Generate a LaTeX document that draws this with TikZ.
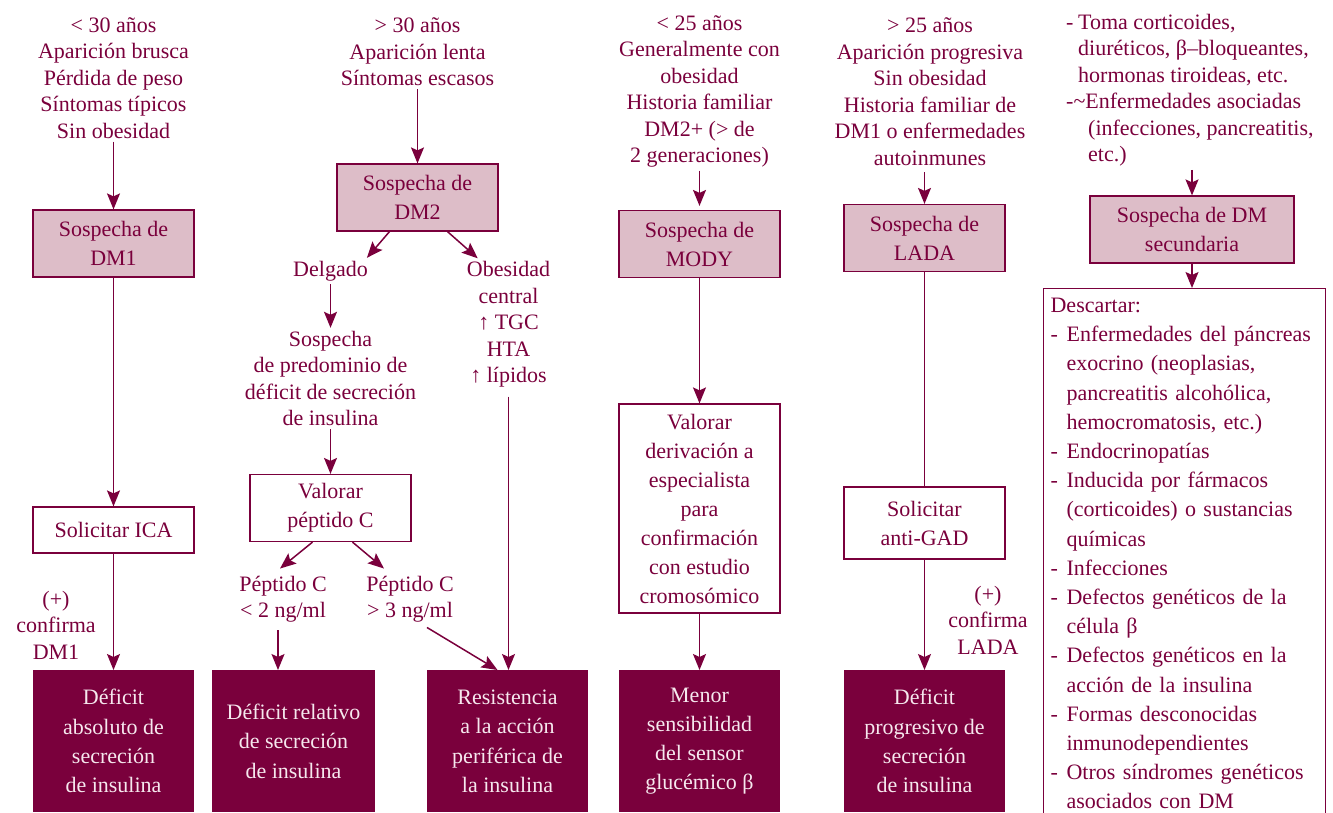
\documentclass[tikz,border=0pt]{standalone}
\usepackage{fontspec}
\setmainfont{Liberation Serif}
\usetikzlibrary{arrows.meta}
\definecolor{granate}{HTML}{7A003C}
\definecolor{rosa}{HTML}{DDBDC8}
\definecolor{claro}{HTML}{F6E8EE}
\newcommand{\guion}{\makebox[16pt][l]{-}}

\begin{document}
\begin{tikzpicture}[x=1pt, y=-1pt,
    texto/.style={text=granate, align=center, inner sep=3pt, font=\fontsize{22}{26.5}\selectfont},
    caja/.style={draw=granate, line width=1.2pt, fill=rosa, text=granate, align=center, minimum width=161pt, minimum height=67pt, inner sep=2pt, font=\fontsize{22}{29}\selectfont},
    blanca/.style={caja, fill=white},
    final/.style={fill=granate, text=claro, align=center, anchor=north, minimum width=161pt, minimum height=142pt, inner sep=0pt, font=\fontsize{22}{29.3}\selectfont},
    linea/.style={draw=granate, line width=1.5pt},
    flecha/.style={linea, -{Stealth[length=16pt, width=13pt, inset=3pt]}}]

    \useasboundingbox (0,0) rectangle (1333,812);

        \node[texto] (edad1) at (113.5,78) {< 30 años\\Aparición brusca\\Pérdida de peso\\Síntomas típicos\\Sin obesidad};
        \node[caja] (dm1) at (113.5,243.5) {Sospecha de\\DM1};
        \node[blanca, minimum height=46pt] (ica) at (113.5,530) {Solicitar ICA};
        \node[texto] (conf1) at (56,625) {(+)\\confirma\\DM1};
        \node[final] (def1) at (113.5,670) {Déficit\\absoluto de\\secreción\\de insulina};
        \draw[flecha] (edad1) -- (dm1);
        \draw[flecha] (dm1) -- (ica);
        \draw[flecha] (ica) -- (def1);

        \node[texto] (edad2) at (417.5,52) {> 30 años\\Aparición lenta\\Síntomas escasos};
        \node[caja] (dm2) at (417.5,197.5) {Sospecha de\\DM2};
        \node[texto] (delgado) at (330.5,271) {Delgado};
        \node[texto] (predom) at (330.5,378.5) {Sospecha\\de predominio de\\déficit de secreción\\de insulina};
        \node[blanca] (valpep) at (330.5,508) {Valorar\\péptido C};
        \node[texto] (pep1) at (283,599) {Péptido C\\< 2 ng/ml};
        \node[texto] (pep2) at (410,599) {Péptido C\\> 3 ng/ml};
        \node[final, minimum width=163pt] (def2) at (293.5,670) {Déficit relativo\\de secreción\\de insulina};
        \node[texto] (obes) at (508.5,324.5) {Obesidad\\central\\↑ TGC\\HTA\\↑ lípidos};
        \node[final] (resist) at (507.5,670) {Resistencia\\a la acción\\periférica de\\la insulina};
        \draw[flecha] (edad2) -- (dm2);
        \draw[flecha] ([xshift=-28pt]dm2.south) -- ([xshift=-4pt]delgado.north east);
        \draw[flecha] ([xshift=30pt]dm2.south) -- ([xshift=14pt]obes.north west);
        \draw[flecha] (delgado) -- (predom);
        \draw[flecha] (predom) -- (valpep);
        \draw[flecha] ([xshift=-18pt]valpep.south) -- ([xshift=-3pt,yshift=4pt]pep1.north);
        \draw[flecha] ([xshift=22pt]valpep.south) -- ([xshift=-26pt,yshift=4pt]pep2.north);
        \draw[flecha] ([xshift=-5pt,yshift=-5pt]pep1.south) -- ([xshift=-5pt]pep1.south |- def2.north);
        \draw[flecha] ([xshift=17pt,yshift=-2pt]pep2.south) -- ([xshift=-10pt]resist.north);
        \draw[flecha] ([yshift=-6pt]obes.south) -- (obes.south |- resist.north);

        \node[texto] (edad3) at (699.5,91.5) {< 25 años\\Generalmente con\\obesidad\\Historia familiar\\DM2+ (> de\\2 generaciones)};
        \node[caja] (mody) at (699.5,244) {Sospecha de\\MODY};
        \node[blanca, minimum height=209pt] (deriv) at (699.5,508.5) {Valorar\\derivación a\\especialista\\para\\confirmación\\con estudio\\cromosómico};
        \node[final] (menor) at (699.5,670) {Menor\\sensibilidad\\del sensor\\glucémico β};
        \draw[flecha] (edad3) -- ([yshift=4pt]mody.north);
        \draw[flecha] (mody) -- (deriv);
        \draw[flecha] (deriv) -- (menor);

        \node[texto] (edad4) at (930,91.5) {> 25 años\\Aparición progresiva\\Sin obesidad\\Historia familiar de\\DM1 o enfermedades\\autoinmunes};
        \node[caja] (lada) at (924.5,238) {Sospecha de\\LADA};
        \node[blanca, minimum height=72pt] (gad) at (924.5,523) {Solicitar\\anti-GAD};
        \node[texto] (conf2) at (988,620) {(+)\\confirma\\LADA};
        \node[final] (def5) at (924.5,670) {Déficit\\progresivo de\\secreción\\de insulina};
        \draw[flecha] ([yshift=-4pt]lada.north |- edad4.south) -- (lada.north);
        \draw[linea] (lada) -- (gad);
        \draw[flecha] (gad) -- (def5);

        \node[texto, align=left, anchor=north west] (causas) at (1063,11) {\makebox[12pt][l]{-}Toma corticoides,\\\hspace*{12pt}diuréticos, β–bloqueantes,\\\hspace*{12pt}hormonas tiroideas, etc.\\-\textasciitilde Enfermedades asociadas\\\hspace*{22pt}(infecciones, pancreatitis,\\\hspace*{22pt}etc.)};
        \node[caja, minimum width=204pt] (dmsec) at (1192,229.5) {Sospecha de DM\\secundaria};
        \node[draw=granate, line width=1.2pt, text=granate, align=left, anchor=north west, minimum width=282pt, minimum height=530pt, text width=268pt, inner xsep=7pt, inner ysep=0pt, font=\fontsize{22}{29.2}\selectfont] (descartar) at (1043,288) {Descartar:\\
            \guion Enfermedades del páncreas\\
            \hspace*{16pt}exocrino (neoplasias,\\
            \hspace*{16pt}pancreatitis alcohólica,\\
            \hspace*{16pt}hemocromatosis, etc.)\\
            \guion Endocrinopatías\\
            \guion Inducida por fármacos\\
            \hspace*{16pt}(corticoides) o sustancias\\
            \hspace*{16pt}químicas\\
            \guion Infecciones\\
            \guion Defectos genéticos de la\\
            \hspace*{16pt}célula β\\
            \guion Defectos genéticos en la\\
            \hspace*{16pt}acción de la insulina\\
            \guion Formas desconocidas\\
            \hspace*{16pt}inmunodependientes\\
            \guion Otros síndromes genéticos\\
            \hspace*{16pt}asociados con DM};
        \draw[flecha] (dmsec.north |- causas.south) -- (dmsec.north);
        \draw[flecha] (dmsec.south) -- (dmsec.south |- descartar.north);

\end{tikzpicture}
\end{document}
